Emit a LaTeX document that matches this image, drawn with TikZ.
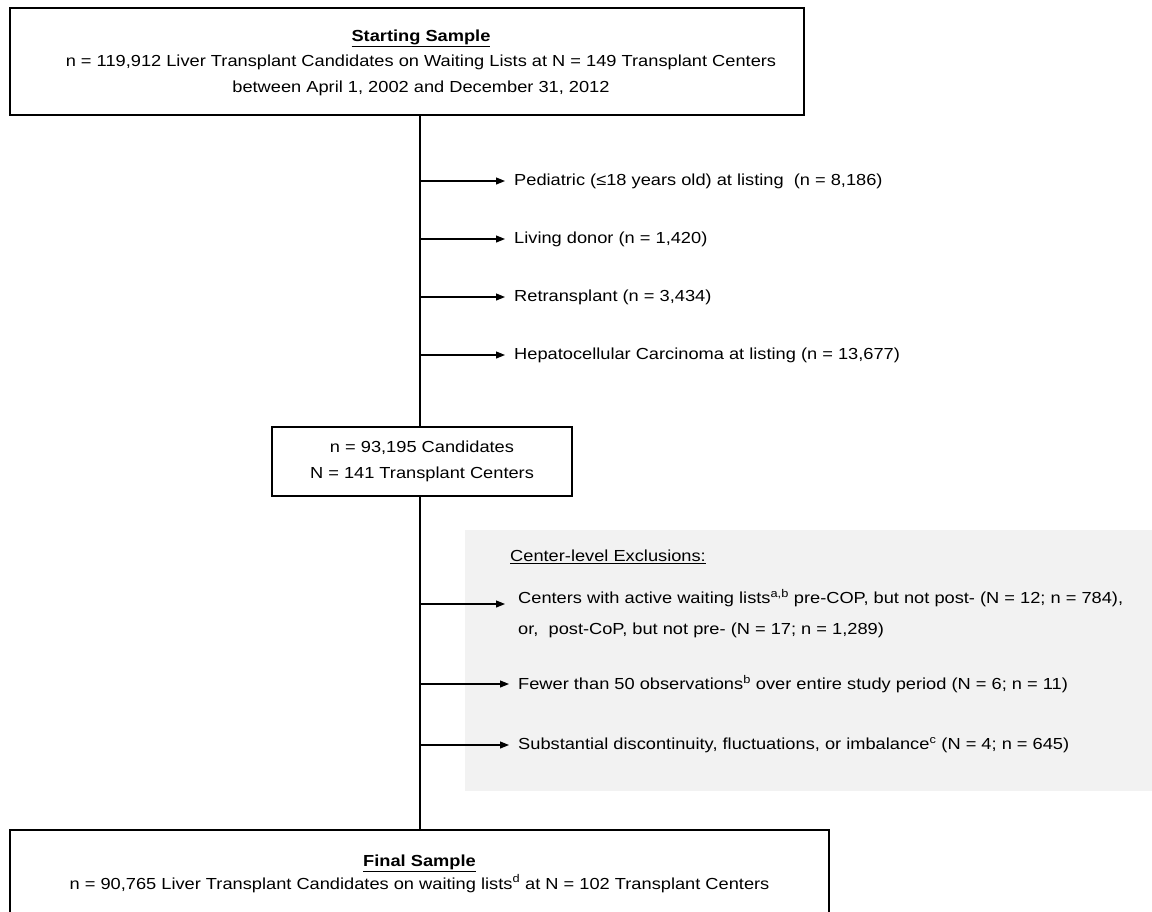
\documentclass[tikz,border=0pt]{standalone}
\usepackage{fontspec}
\setmainfont[FakeStretch=1.14]{Liberation Sans}
\usetikzlibrary{arrows.meta}
\definecolor{panel}{HTML}{F2F2F2}
\begin{document}
\begin{tikzpicture}[x=1pt,y=-1pt,
  box/.style={draw,line width=1.3pt,inner sep=0pt,align=center,font=\fontsize{16}{25.5}\selectfont},
  txt/.style={inner sep=0pt,align=center,font=\fontsize{16}{25.5}\selectfont},
  lbl/.style={anchor=west,inner sep=0pt,align=left,font=\fontsize{16}{31}\selectfont},
  arr/.style={line width=1.1pt,-{Triangle[length=9pt,width=7pt]}},
  conn/.style={line width=1.1pt}]
\useasboundingbox (0,0) rectangle (1152,911);
\clip (0,0) rectangle (1152,911);
\fill[panel] (465,530) rectangle (1152,791);
\coordinate (spine) at (420,0);
\node[box,minimum width=794pt,minimum height=107pt] (start) at (407,61.5) {};
\node[txt] (starttxt) at (421,62.5)
  {\textbf{\underline{Starting Sample}}\\
   n = 119,912 Liver Transplant Candidates on Waiting Lists at N = 149 Transplant Centers\\
   between April 1, 2002 and December 31, 2012};
\node[lbl] (e1) at (514,181) {Pediatric (≤18 years old) at listing\ \ (n = 8,186)};
\node[lbl] (e2) at (514,239) {Living donor (n = 1,420)};
\node[lbl] (e3) at (514,297) {Retransplant (n = 3,434)};
\node[lbl] (e4) at (514,355) {Hepatocellular Carcinoma at listing (n = 13,677)};
\node[box,minimum width=300pt,minimum height=69pt] (mid) at (422,461.5)
  {n = 93,195 Candidates\\N = 141 Transplant Centers};
\node[lbl] (hdr) at (510,557) {\underline{Center-level Exclusions:}};
\node[lbl] (e5) at (518,613.5) {Centers with active waiting lists\textsuperscript{a,b} pre-COP, but not post- (N = 12; n = 784),\\
  or,\ \ post-CoP, but not pre- (N = 17; n = 1,289)};
\node[lbl] (e6) at (518,684) {Fewer than 50 observations\textsuperscript{b} over entire study period (N = 6; n = 11)};
\node[lbl] (e7) at (518,745) {Substantial discontinuity, fluctuations, or imbalance\textsuperscript{c} (N = 4; n = 645)};
\node[box,minimum width=819pt,minimum height=87pt,font=\fontsize{16}{23}\selectfont] (final) at (419.5,873.5)
  {\textbf{\underline{Final Sample}}\\
   n = 90,765 Liver Transplant Candidates on waiting lists\textsuperscript{d} at N = 102 Transplant Centers};
\draw[conn] (start.south -| spine) -- (mid.north -| spine);
\draw[conn] (mid.south -| spine) -- (final.north -| spine);
\foreach \e in {e1,e2,e3,e4,e6,e7}
  \draw[arr] (\e.west -| spine) -- ([xshift=-9pt]\e.west);
\draw[arr] ([yshift=9.5pt]e5.west -| spine) -- ([xshift=-13pt,yshift=9.5pt]e5.west);
\end{tikzpicture}
\end{document}
